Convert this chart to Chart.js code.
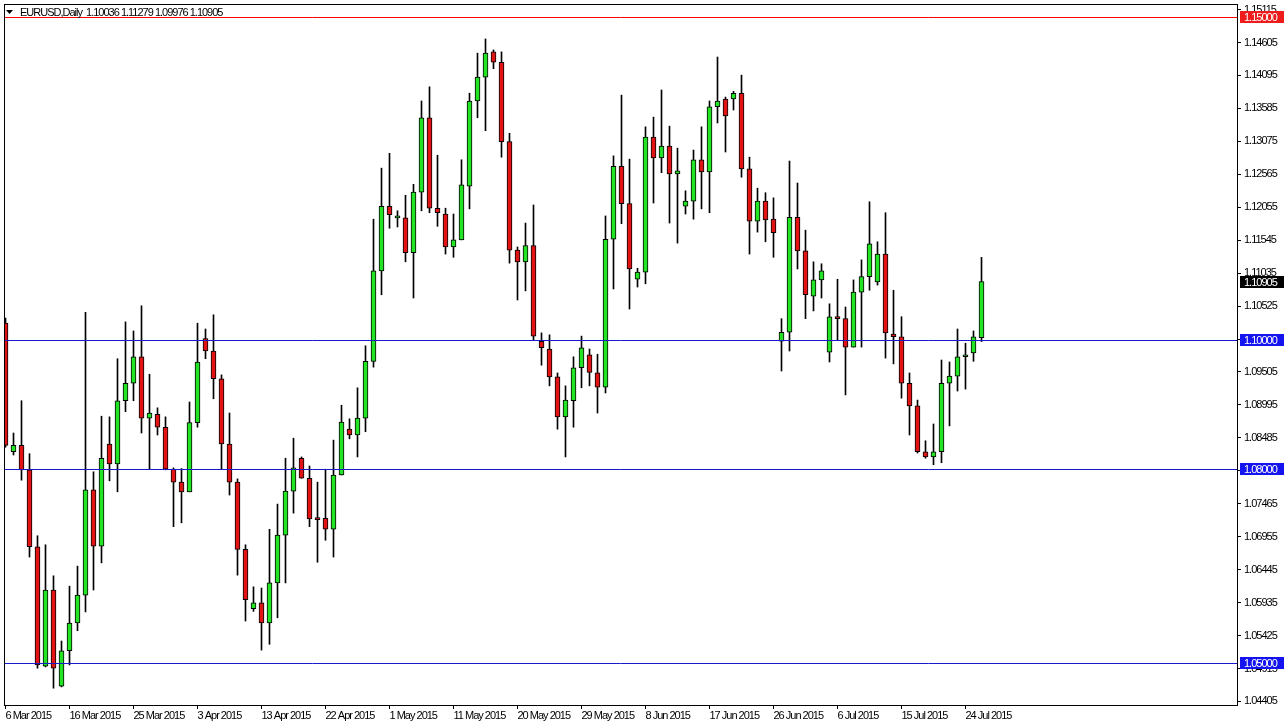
<!DOCTYPE html>
<html lang="en">
<head>
<meta charset="UTF-8" />
<title>EURUSD Daily</title>
<script src="https://cdn.jsdelivr.net/npm/chart.js"></script>
<style>
  html, body { margin: 0; padding: 0; background: #ffffff; }
  #wrap { width: 1286px; height: 725px; }
</style>
</head>
<body>
<div id="wrap"><canvas id="chart" width="1286" height="725"></canvas></div>
<script>
  const symbol = 'EURUSD,Daily';

  // one bar per trading day (incl. Sunday bars), 6 Mar 2015 .. 27 Jul 2015
  const opens = [
    1.1026, 1.0827, 1.0837, 1.0799, 1.0680, 1.0495, 1.0613, 1.0464, 1.0519, 1.0562,
    1.0605, 1.0768, 1.0681, 1.0839, 1.0808, 1.0906, 1.0933, 1.0974, 1.0879, 1.0885,
    1.0865, 1.0800, 1.0780, 1.0765, 1.0872, 1.1002, 1.0983, 1.0940, 1.0839, 1.0780,
    1.0676, 1.0584, 1.0593, 1.0562, 1.0624, 1.0698, 1.0766, 1.0817, 1.0786, 1.0723,
    1.0724, 1.0707, 1.0791, 1.0862, 1.0853, 1.0879, 1.0967, 1.1107, 1.1207, 1.1189,
    1.1189, 1.1135, 1.1229, 1.1344, 1.1204, 1.1195, 1.1144, 1.1155, 1.1238, 1.1370,
    1.1407, 1.1446, 1.1430, 1.1307, 1.1139, 1.1121, 1.1146, 1.0998, 1.0986, 1.0943,
    1.0881, 1.0906, 1.0957, 1.0977, 1.0949, 1.0927, 1.1156, 1.1269, 1.1211, 1.1094,
    1.1105, 1.1314, 1.1282, 1.1300, 1.1257, 1.1207, 1.1215, 1.1279, 1.1260, 1.1361,
    1.1373, 1.1373, 1.1382, 1.1265, 1.1184, 1.1215, 1.1187, 1.0998, 1.1012, 1.1190,
    1.1138, 1.1068, 1.1093, 1.0981, 1.1036, 1.1033, 1.0989, 1.1074, 1.1098, 1.1090,
    1.1133, 1.1009, 1.1005, 1.0933, 1.0898, 1.0827, 1.0819, 1.0827, 1.0933, 1.0944,
    1.0974, 1.0980, 1.10036
  ];
  const highs = [
    1.1034, 1.0856, 1.0906, 1.0824, 1.0697, 1.0683, 1.0635, 1.0534, 1.0619, 1.0650,
    1.1043, 1.0796, 1.0882, 1.0881, 1.0971, 1.1028, 1.1014, 1.1053, 1.0947, 1.0895,
    1.0881, 1.0802, 1.0801, 1.0904, 1.1026, 1.1017, 1.1039, 1.0946, 1.0887, 1.0785,
    1.0683, 1.0618, 1.0616, 1.0707, 1.0746, 1.0817, 1.0848, 1.0819, 1.0805, 1.0780,
    1.0800, 1.0845, 1.0899, 1.0878, 1.0926, 1.0991, 1.1187, 1.1266, 1.1289, 1.1200,
    1.1224, 1.1241, 1.1370, 1.1392, 1.1286, 1.1204, 1.1195, 1.1279, 1.1382, 1.1444,
    1.1466, 1.1449, 1.1446, 1.1320, 1.1144, 1.1181, 1.1209, 1.1011, 1.1008, 1.0949,
    1.0929, 1.0974, 1.1006, 1.0986, 1.0978, 1.1192, 1.1285, 1.1379, 1.1280, 1.1111,
    1.1330, 1.1345, 1.1387, 1.1331, 1.1297, 1.1231, 1.1294, 1.1330, 1.1370, 1.1438,
    1.1376, 1.1385, 1.1410, 1.1283, 1.1235, 1.1228, 1.1220, 1.1033, 1.1277, 1.1243,
    1.1170, 1.1121, 1.1118, 1.1056, 1.1094, 1.1051, 1.1093, 1.1124, 1.1214, 1.1152,
    1.1197, 1.1077, 1.1036, 1.0949, 1.0907, 1.0844, 1.0870, 1.0969, 1.0966, 1.1017,
    1.0995, 1.1014, 1.11279
  ];
  const lows = [
    1.0834, 1.0822, 1.0783, 1.0664, 1.0492, 1.0494, 1.0461, 1.0463, 1.0497, 1.0550,
    1.0579, 1.0613, 1.0655, 1.0782, 1.0765, 1.0889, 1.0906, 1.0856, 1.0800, 1.0853,
    1.0799, 1.0711, 1.0717, 1.0765, 1.0865, 1.0971, 1.0909, 1.0800, 1.0760, 1.0636,
    1.0565, 1.0580, 1.0520, 1.0529, 1.0570, 1.0624, 1.0732, 1.0786, 1.0711, 1.0656,
    1.0690, 1.0664, 1.0791, 1.0847, 1.0819, 1.0858, 1.0958, 1.1070, 1.1173, 1.1175,
    1.1121, 1.1065, 1.1200, 1.1197, 1.1176, 1.1133, 1.1128, 1.1155, 1.1203, 1.1344,
    1.1324, 1.1420, 1.1283, 1.1119, 1.1062, 1.1076, 1.1000, 1.0961, 1.0929, 1.0862,
    1.0819, 1.0865, 1.0926, 1.0929, 1.0887, 1.0918, 1.1079, 1.1180, 1.1048, 1.1082,
    1.1087, 1.1212, 1.1259, 1.1181, 1.1150, 1.1195, 1.1187, 1.1203, 1.1197, 1.1336,
    1.1291, 1.1356, 1.1252, 1.1133, 1.1167, 1.1152, 1.1128, 1.0952, 1.0983, 1.1110,
    1.1033, 1.1045, 1.1065, 1.0966, 1.1000, 1.0915, 1.0989, 1.0989, 1.1077, 1.1085,
    1.0972, 1.0963, 1.0910, 1.0853, 1.0825, 1.0817, 1.0807, 1.0810, 1.0867, 1.0921,
    1.0924, 1.0967, 1.09976
  ];
  const closes = [
    1.0837, 1.0837, 1.0799, 1.0680, 1.0497, 1.0613, 1.0492, 1.0519, 1.0562, 1.0605,
    1.0768, 1.0681, 1.0817, 1.0808, 1.0906, 1.0933, 1.0974, 1.0879, 1.0887, 1.0865,
    1.0800, 1.0780, 1.0765, 1.0872, 1.0966, 1.0983, 1.0940, 1.0839, 1.0780, 1.0676,
    1.0598, 1.0593, 1.0562, 1.0624, 1.0698, 1.0766, 1.0802, 1.0786, 1.0723, 1.0722,
    1.0707, 1.0791, 1.0873, 1.0853, 1.0879, 1.0967, 1.1107, 1.1207, 1.1194, 1.1189,
    1.1135, 1.1229, 1.1344, 1.1204, 1.1197, 1.1144, 1.1155, 1.1240, 1.1370, 1.1407,
    1.1444, 1.1430, 1.1307, 1.1139, 1.1121, 1.1146, 1.1006, 1.0988, 1.0943, 1.0881,
    1.0907, 1.0957, 1.0988, 1.0950, 1.0927, 1.1156, 1.1269, 1.1211, 1.1110, 1.1105,
    1.1314, 1.1282, 1.1300, 1.1257, 1.1262, 1.1215, 1.1279, 1.1260, 1.1361, 1.1370,
    1.1347, 1.1382, 1.1265, 1.1184, 1.1215, 1.1186, 1.1166, 1.1012, 1.1190, 1.1138,
    1.1070, 1.1093, 1.1107, 1.1036, 1.1033, 1.0989, 1.1074, 1.1098, 1.1149, 1.1133,
    1.1011, 1.1005, 1.0933, 1.0898, 1.0827, 1.0819, 1.0827, 1.0933, 1.0944, 1.0974,
    1.0975, 1.1005, 1.10905
  ];

  // date labels, one every 8 bars
  const dateTickBars = [0, 8, 16, 24, 32, 40, 48, 56, 64, 72, 80, 88, 96, 104, 112, 120];
  const dateTickLabels = [
    '6 Mar 2015', '16 Mar 2015', '25 Mar 2015', '3 Apr 2015', '13 Apr 2015', '22 Apr 2015',
    '1 May 2015', '11 May 2015', '20 May 2015', '29 May 2015', '8 Jun 2015', '17 Jun 2015',
    '26 Jun 2015', '6 Jul 2015', '15 Jul 2015', '24 Jul 2015'
  ];
  const priceTicks = [
    1.04405, 1.04915, 1.05425, 1.05935, 1.06445, 1.06955, 1.07465, 1.07975, 1.08485, 1.08995,
    1.09505, 1.10015, 1.10525, 1.11035, 1.11545, 1.12055, 1.12565, 1.13075, 1.13585, 1.14095,
    1.14605, 1.15115
  ];
  // horizontal levels drawn on the chart
  const levelPrices = [1.15, 1.10, 1.08, 1.05];
  const levelColors = ['#ff0000', '#1818cc', '#1818cc', '#1818cc'];
  const levelBoxColors = ['#ee1c1c', '#1414f0', '#1414f0', '#1414f0'];

  const FONT = '"Liberation Sans", Arial, sans-serif';
  const BULL = '#22e422';
  const BEAR = '#e01414';

  const bars = opens.map((o, i) => i);
  const bodyColors = bars.map(i => closes[i] >= opens[i] ? BULL : BEAR);

  // terminal-like tight lettering
  const tight = c => { c.ctx.letterSpacing = '-1px'; };

  const overlay = {
    id: 'overlay',
    beforeLayout: tight,
    beforeDraw: tight,
    afterDatasetsDraw(chart) {
      const { ctx, chartArea: a, scales: { y } } = chart;
      ctx.save();
      ctx.lineWidth = 1;
      levelPrices.forEach((p, k) => {
        const py = Math.round(y.getPixelForValue(p)) + 0.5;
        ctx.strokeStyle = levelColors[k];
        ctx.beginPath();
        ctx.moveTo(a.left, py);
        ctx.lineTo(a.right, py);
        ctx.stroke();
      });
      ctx.restore();
    },
    afterDraw(chart) {
      const { ctx, chartArea: a, scales: { y } } = chart;
      ctx.save();
      // frame
      ctx.strokeStyle = '#000';
      ctx.lineWidth = 1;
      ctx.strokeRect(a.left + 0.5, a.top + 0.5, a.right - a.left, a.bottom - a.top);

      // price boxes on the axis
      const box = (p, bg) => {
        const py = Math.round(y.getPixelForValue(p));
        ctx.fillStyle = bg;
        ctx.fillRect(a.right + 3, py - 6, 44, 12);
        ctx.fillStyle = '#fff';
        ctx.font = '11px ' + FONT;
        ctx.textAlign = 'left';
        ctx.textBaseline = 'middle';
        ctx.fillText(p.toFixed(5), a.right + 7, py + 0.5);
      };
      levelPrices.forEach((p, k) => box(p, levelBoxColors[k]));
      box(closes[closes.length - 1], '#000');

      // header line
      const n = closes.length - 1;
      ctx.fillStyle = '#000';
      ctx.beginPath();
      ctx.moveTo(a.left + 2, 10);
      ctx.lineTo(a.left + 9, 10);
      ctx.lineTo(a.left + 5.5, 14);
      ctx.closePath();
      ctx.fill();
      ctx.font = '11px ' + FONT;
      ctx.textAlign = 'left';
      ctx.textBaseline = 'middle';
      ctx.fillText(symbol + '  ' + [opens[n], highs[n], lows[n], closes[n]].map(v => v.toFixed(5)).join(' '),
        a.left + 16, 12.5);
      ctx.restore();
    }
  };

  new Chart(document.getElementById('chart'), {
    type: 'bar',
    data: {
      datasets: [
        {
          label: 'body',
          data: bars.map(i => ({ x: i, y: [opens[i], closes[i]] })),
          backgroundColor: bodyColors,
          borderColor: '#000',
          borderWidth: 1,
          borderSkipped: false,
          barThickness: 5,
          minBarLength: 2,
          grouped: false,
          order: 0
        },
        {
          label: 'wick',
          data: bars.map(i => ({ x: i, y: [lows[i], highs[i]] })),
          backgroundColor: '#000',
          borderWidth: 0,
          barThickness: 1,
          grouped: false,
          order: 1
        }
      ]
    },
    options: {
      responsive: false,
      animation: false,
      layout: { padding: { left: 4, top: 4, right: 0, bottom: 0 } },
      plugins: { legend: { display: false }, tooltip: { enabled: false } },
      scales: {
        x: {
          type: 'linear',
          offset: false,
          min: -0.1875,
          max: 153.9375,
          grid: { offset: false, drawOnChartArea: false, drawTicks: true, tickLength: 4, tickColor: '#000' },
          border: { display: true, color: '#000' },
          afterBuildTicks: s => { s.ticks = dateTickBars.map(v => ({ value: v })); },
          afterFit: s => { s.height = 20; s.paddingLeft = 0; s.paddingRight = 0; },
          ticks: {
            autoSkip: false,
            maxRotation: 0,
            minRotation: 0,
            align: 'start',
            padding: 0,
            color: '#000',
            font: { family: FONT, size: 11 },
            callback: v => dateTickLabels[dateTickBars.indexOf(v)]
          }
        },
        y: {
          position: 'right',
          min: 1.04350,
          max: 1.15201,
          grid: { drawOnChartArea: false, drawTicks: true, tickLength: 4, tickColor: '#000' },
          border: { display: true, color: '#000' },
          afterBuildTicks: s => { s.ticks = priceTicks.map(v => ({ value: v })); },
          afterFit: s => { s.width = 49; s.paddingTop = 0; s.paddingBottom = 0; },
          ticks: {
            autoSkip: false,
            padding: 3,
            color: '#000',
            font: { family: FONT, size: 11 },
            callback: v => v.toFixed(5)
          }
        }
      }
    },
    plugins: [overlay]
  });
</script>
</body>
</html>
